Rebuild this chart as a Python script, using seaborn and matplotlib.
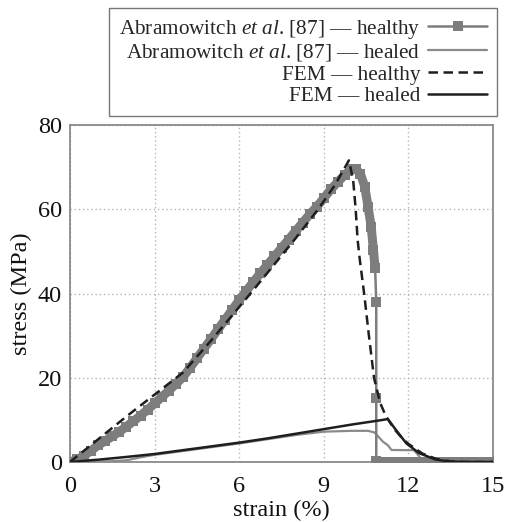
import numpy as np
import pandas as pd
import matplotlib
matplotlib.use("Agg")
import matplotlib.pyplot as plt
import seaborn as sns

# ---------------- data ----------------
exp_healthy_strain = [0, 0.25, 0.5, 0.75, 1.0, 1.25, 1.5, 1.75, 2.0, 2.25, 2.5, 2.75,
                      3.0, 3.25, 3.5, 3.75, 4.0, 4.25, 4.5, 4.75, 5.0, 5.25, 5.5, 5.75,
                      6.0, 6.25, 6.5, 6.75, 7.0, 7.25, 7.5, 7.75, 8.0, 8.25, 8.5, 8.75,
                      9.0, 9.25, 9.5, 9.75, 10.0, 10.15, 10.3, 10.45, 10.57, 10.68, 10.76,
                      10.82, 10.86, 10.86, 10.86, 10.86,
                      11.1, 11.35, 11.6, 11.85, 12.1, 12.35, 12.6, 12.85, 13.1, 13.35,
                      13.6, 13.85, 14.1, 14.35, 14.6, 14.85, 15.0]
exp_healthy_stress = [0, 0.6, 1.5, 2.7, 4.0, 5.0, 6.1, 7.2, 8.4, 9.7, 11.0, 12.4,
                      13.9, 15.4, 16.9, 18.5, 20.1, 22.3, 24.6, 26.9, 29.2, 31.5, 33.8, 36.1,
                      38.4, 40.6, 42.7, 44.8, 46.8, 48.8, 50.8, 52.8, 54.8, 56.8, 58.8, 60.6,
                      62.6, 64.7, 66.5, 68.2, 69.6, 69.5, 68.4, 65.4, 60.6, 55.9, 50.3,
                      46.0, 38.0, 15.3, 0.3, 0.0,
                      0, 0, 0, 0, 0, 0, 0, 0, 0, 0,
                      0, 0, 0, 0, 0, 0, 0]

exp_healed_strain = [0, 0.5, 1.0, 1.5, 2.0, 2.5, 3.0, 4.0, 5.0, 6.0, 7.0, 8.0, 9.0, 9.5,
                     10.0, 10.57, 10.8, 11.1, 11.27, 11.4, 12.2, 12.45, 12.7, 15.0]
exp_healed_stress = [0, 0.05, 0.1, 0.2, 0.4, 1.1, 1.7, 2.6, 3.5, 4.4, 5.4, 6.4, 7.2, 7.3,
                     7.4, 7.4, 7.0, 4.8, 4.0, 2.85, 2.8, 0.8, 0.1, 0.0]

fem_healthy_strain = [0, 1, 2, 3, 4, 5, 6, 6.4, 7, 8, 8.8, 9.4, 9.89,
                      10.04, 10.13, 10.2, 10.27, 10.43, 10.6, 10.78, 11.0, 11.2, 11.5,
                      11.8, 12.0, 12.5, 13.0, 13.5, 14.0, 15.0]
fem_healthy_stress = [0, 5.4, 10.8, 16.0, 21.2, 28.8, 36.8, 40.0, 44.9, 53.1, 60.0, 65.8, 71.6,
                      67.0, 60.0, 52.7, 48.4, 40.0, 30.0, 20.0, 14.0, 10.9, 7.8,
                      5.5, 4.3, 2.0, 0.7, 0.15, 0.0, 0.0]

fem_healed_strain = [0, 1, 2, 3, 4, 5, 6, 7, 8, 9, 10, 11, 11.27,
                     11.56, 11.93, 12.38, 12.96, 13.43, 14.0, 15.0]
fem_healed_stress = [0, 0.55, 1.2, 1.9, 2.8, 3.7, 4.6, 5.6, 6.7, 7.8, 8.9, 9.9, 10.2,
                     7.6, 4.4, 2.1, 0.6, 0.1, 0.0, 0.0]

x_ticks = [0, 3, 6, 9, 12, 15]
y_ticks = [0, 20, 40, 60, 80]

labels = [r"Abramowitch $\mathit{et\ al}$. [87] — healthy",
          r"Abramowitch $\mathit{et\ al}$. [87] — healed",
          "FEM — healthy",
          "FEM — healed"]

# ---------------- style ----------------
sns.set_theme(style="white")
plt.rcParams["font.family"] = ["Liberation Serif", "DejaVu Serif"]
plt.rcParams["mathtext.fontset"] = "custom"
plt.rcParams["mathtext.rm"] = "Liberation Serif"
plt.rcParams["mathtext.it"] = "Liberation Serif:italic"

fig = plt.figure(figsize=(5.05, 5.22), dpi=100)
ax = fig.add_axes([70 / 505, 1 - 462 / 522, (493 - 70) / 505, (462 - 125) / 522])

gray = "#7d7d7d"
dark = "#1e1e1e"

df_h = pd.DataFrame({"strain": exp_healthy_strain, "stress": exp_healthy_stress})
df_e = pd.DataFrame({"strain": exp_healed_strain, "stress": exp_healed_stress})
df_fh = pd.DataFrame({"strain": fem_healthy_strain, "stress": fem_healthy_stress})
df_fe = pd.DataFrame({"strain": fem_healed_strain, "stress": fem_healed_stress})

# dense measurement band (rising/peak part and the zero tail)
n_rise = exp_healthy_strain.index(10.82) + 1
n_tail = len(exp_healthy_strain) - exp_healthy_strain.index(11.1) + 1
sns.lineplot(data=df_h.iloc[:n_rise], x="strain", y="stress", ax=ax, color=gray,
             lw=6.5, sort=False, estimator=None, zorder=3, legend=False)
sns.lineplot(data=df_h.iloc[-n_tail:], x="strain", y="stress", ax=ax, color=gray,
             lw=6.5, sort=False, estimator=None, zorder=3, legend=False)

sns.lineplot(data=df_e, x="strain", y="stress", ax=ax, color="#8a8a8a", lw=1.6,
             sort=False, estimator=None, label=labels[1], zorder=2)
sns.lineplot(data=df_h, x="strain", y="stress", ax=ax, color=gray, lw=1.8,
             marker="s", markersize=6.5, markeredgewidth=0, sort=False, estimator=None,
             label=labels[0], zorder=3)
sns.lineplot(data=df_fh, x="strain", y="stress", ax=ax, color=dark, lw=1.8,
             linestyle=(0, (3.8, 2.2)), sort=False, estimator=None, label=labels[2], zorder=4)
sns.lineplot(data=df_fe, x="strain", y="stress", ax=ax, color=dark, lw=1.8,
             sort=False, estimator=None, label=labels[3], zorder=4)

ax.set_xlim(0, 15)
ax.set_ylim(0, 80)
ax.set_xticks(x_ticks)
ax.set_yticks(y_ticks)
ax.grid(True, color="#b5b5b5", linestyle=(0, (1, 2)), linewidth=1.0)
for s in ax.spines.values():
    s.set_color("#8a8a8a")
    s.set_linewidth(1.3)
ax.tick_params(direction="in", length=7, width=1.2, color="#8a8a8a",
               labelsize=17.5, labelcolor="#111111")
ax.tick_params(axis="x", pad=10)
ax.tick_params(axis="y", pad=6)
ax.set_xlabel("strain (%)", fontsize=17.5, labelpad=2, color="#111111")
ax.set_ylabel("stress (MPa)", fontsize=17.5, labelpad=4, color="#111111")

handles, labs = ax.get_legend_handles_labels()
order = [labs.index(l) for l in labels]
ax.get_legend().remove()
leg = fig.legend([handles[i] for i in order], [labs[i] for i in order],
                 loc="upper right", bbox_to_anchor=(497 / 505, 1 - 8 / 522),
                 markerfirst=False, frameon=True, fancybox=False, fontsize=15.3,
                 handlelength=2.8, handletextpad=0.35, labelspacing=0.08,
                 borderpad=0.45, borderaxespad=0)
leg.get_frame().set_edgecolor("#555555")
leg.get_frame().set_linewidth(1.0)
for t in leg.get_texts():
    t.set_ha("right")

fig.savefig("out.png", dpi=100)
